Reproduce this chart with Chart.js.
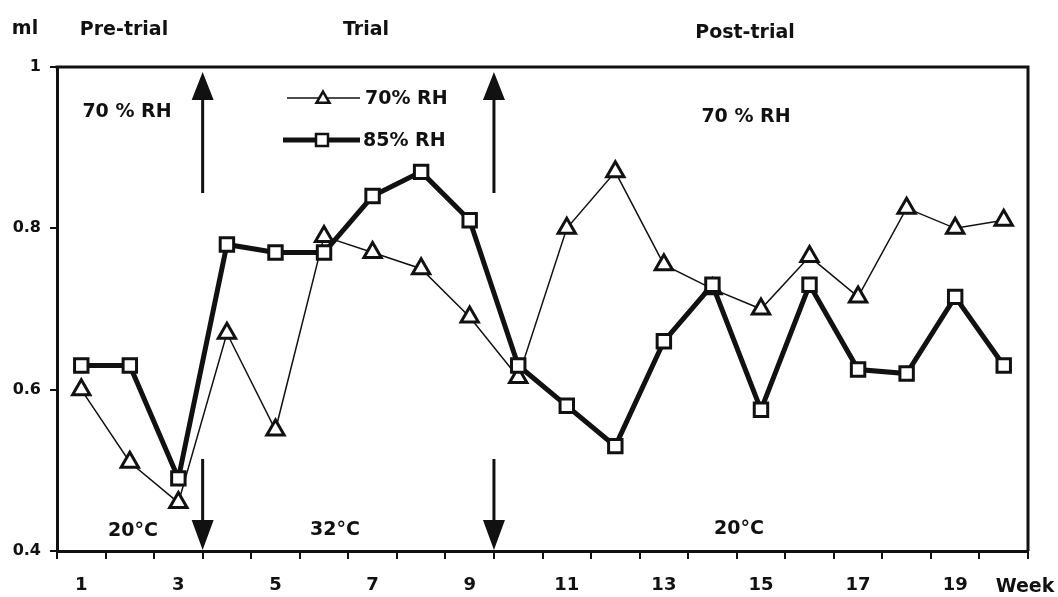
<!DOCTYPE html>
<html>
<head>
<meta charset="utf-8">
<script src="https://cdn.jsdelivr.net/npm/chart.js@4.4.0/dist/chart.umd.min.js"></script>
<style>
  body { margin: 0; background: #fff; }
  canvas { display: block; }
</style>
</head>
<body>
<canvas id="chart" width="1058" height="597"></canvas>
<script>
// --- Data ---
const weeks = ['1', '2', '3', '4', '5', '6', '7', '8', '9', '10',
               '11', '12', '13', '14', '15', '16', '17', '18', '19', '20'];
const xTickLabels = ['1', '', '3', '', '5', '', '7', '', '9', '',
                     '11', '', '13', '', '15', '', '17', '', '19', ''];
const yTicks = [0.4, 0.6, 0.8, 1];
const yTickLabels = ['0.4', '0.6', '0.8', '1'];

// 70% RH (triangles) and 85% RH (squares), ml per week
const rh70 = [0.60, 0.51, 0.46, 0.67, 0.55, 0.79, 0.77, 0.75, 0.69, 0.615,
              0.80, 0.87, 0.755, 0.725, 0.70, 0.765, 0.715, 0.825, 0.80, 0.81];
const rh85 = [0.63, 0.63, 0.49, 0.78, 0.77, 0.77, 0.84, 0.87, 0.81, 0.63,
              0.58, 0.53, 0.66, 0.73, 0.575, 0.73, 0.625, 0.62, 0.715, 0.63];

// --- Styling ---
const ink = '#111';
const fontFamily = '"DejaVu Sans", "Liberation Sans", sans-serif';

// Free text on the figure (pixel positions on the canvas)
const notes = [
    { text: 'ml', x: 25, y: 29 },
    { text: 'Pre-trial', x: 124, y: 30 },
    { text: 'Trial', x: 366, y: 30 },
    { text: 'Post-trial', x: 745, y: 33 },
    { text: '70 % RH', x: 127, y: 112 },
    { text: '70 % RH', x: 746, y: 117 },
    { text: '20°C', x: 133, y: 531 },
    { text: '32°C', x: 335, y: 530 },
    { text: '20°C', x: 739, y: 529 },
    { text: 'Week', x: 1025, y: 587 }
];
// arrows sit on the boundary after these week indexes (0-based)
const arrowAfter = [2, 8];

function drawTriangle(ctx, x, y, r) {
    ctx.beginPath();
    for (let i = 0; i < 3; i++) {
        const a = i * 2 * Math.PI / 3;
        const px = x + Math.sin(a) * r;
        const py = y - Math.cos(a) * r;
        if (i === 0) ctx.moveTo(px, py); else ctx.lineTo(px, py);
    }
    ctx.closePath();
    ctx.fillStyle = '#fff';
    ctx.fill();
    ctx.stroke();
}

const annotations = {
    id: 'annotations',
    afterDraw(chart) {
        const { ctx, chartArea: a, scales: { x } } = chart;
        ctx.save();

        // top and right frame
        ctx.strokeStyle = ink;
        ctx.lineWidth = 3;
        ctx.beginPath();
        ctx.moveTo(a.left - 1.5, a.top);
        ctx.lineTo(a.right, a.top);
        ctx.lineTo(a.right, a.bottom);
        ctx.stroke();

        // text
        ctx.fillStyle = ink;
        ctx.font = 'bold 19px ' + fontFamily;
        ctx.textAlign = 'center';
        ctx.textBaseline = 'middle';
        notes.forEach(n => ctx.fillText(n.text, n.x, n.y));

        // arrows (up at the top, down at the bottom)
        arrowAfter.forEach(i => {
            const ax = (x.getPixelForValue(i) + x.getPixelForValue(i + 1)) / 2;
            ctx.lineWidth = 3;
            ctx.beginPath();
            ctx.moveTo(ax, 193);
            ctx.lineTo(ax, 95);
            ctx.moveTo(ax, 459);
            ctx.lineTo(ax, 525);
            ctx.stroke();
            ctx.beginPath();
            ctx.moveTo(ax, 72);
            ctx.lineTo(ax - 11, 100);
            ctx.lineTo(ax + 11, 100);
            ctx.closePath();
            ctx.moveTo(ax, 550);
            ctx.lineTo(ax - 11, 520);
            ctx.lineTo(ax + 11, 520);
            ctx.closePath();
            ctx.fill();
        });

        // legend
        ctx.textAlign = 'left';
        ctx.strokeStyle = ink;
        ctx.lineWidth = 1.5;
        ctx.beginPath();
        ctx.moveTo(287, 98);
        ctx.lineTo(360, 98);
        ctx.stroke();
        ctx.lineWidth = 2.5;
        drawTriangle(ctx, 323, 99, 7.5);
        ctx.fillStyle = ink;
        ctx.fillText(chart.data.datasets[0].label, 365, 99);

        ctx.lineWidth = 5;
        ctx.beginPath();
        ctx.moveTo(283, 140);
        ctx.lineTo(360, 140);
        ctx.stroke();
        ctx.lineWidth = 2.5;
        ctx.fillStyle = '#fff';
        ctx.fillRect(316, 134, 12, 12);
        ctx.strokeRect(316, 134, 12, 12);
        ctx.fillStyle = ink;
        ctx.fillText(chart.data.datasets[1].label, 363, 141);

        ctx.restore();
    }
};

const ctx = document.getElementById('chart').getContext('2d');
const chart = new Chart(ctx, {
    type: 'line',
    data: {
        labels: weeks,
        datasets: [
            {
                label: '70% RH',
                data: rh70,
                borderColor: ink,
                borderWidth: 1.5,
                pointStyle: 'triangle',
                pointRadius: 10,
                pointBorderWidth: 3,
                pointBorderColor: ink,
                pointBackgroundColor: '#fff',
                tension: 0,
                order: 2
            },
            {
                label: '85% RH',
                data: rh85,
                borderColor: ink,
                borderWidth: 5,
                pointStyle: 'rect',
                pointRadius: 9.5,
                pointBorderWidth: 3,
                pointBorderColor: ink,
                pointBackgroundColor: '#fff',
                tension: 0,
                order: 1
            }
        ]
    },
    options: {
        responsive: false,
        animation: false,
        events: [],
        layout: { padding: { top: 67, right: 30, left: 0, bottom: 0 } },
        plugins: {
            legend: { display: false },
            tooltip: { enabled: false }
        },
        scales: {
            x: {
                offset: true,
                grid: { offset: true, drawOnChartArea: false, tickLength: 8, color: ink, lineWidth: 2 },
                border: { display: true, color: ink, width: 3 },
                ticks: {
                    autoSkip: false,
                    maxRotation: 0,
                    padding: 16,
                    color: ink,
                    font: { family: fontFamily, size: 18, weight: 'bold' },
                    callback: (v, i) => xTickLabels[i]
                },
                afterFit: s => { s.height = 46; }
            },
            y: {
                min: 0.4,
                max: 1,
                grid: { drawOnChartArea: false, tickLength: 7, color: ink, lineWidth: 2 },
                border: { display: true, color: ink, width: 3 },
                ticks: {
                    stepSize: 0.2,
                    padding: 9,
                    color: ink,
                    font: { family: fontFamily, size: 16, weight: 'bold' },
                    callback: v => {
                        const i = yTicks.findIndex(t => Math.abs(t - v) < 1e-6);
                        return i >= 0 ? yTickLabels[i] : '';
                    }
                },
                afterFit: s => { s.width = 57; }
            }
        }
    },
    plugins: [annotations]
});
</script>
</body>
</html>
